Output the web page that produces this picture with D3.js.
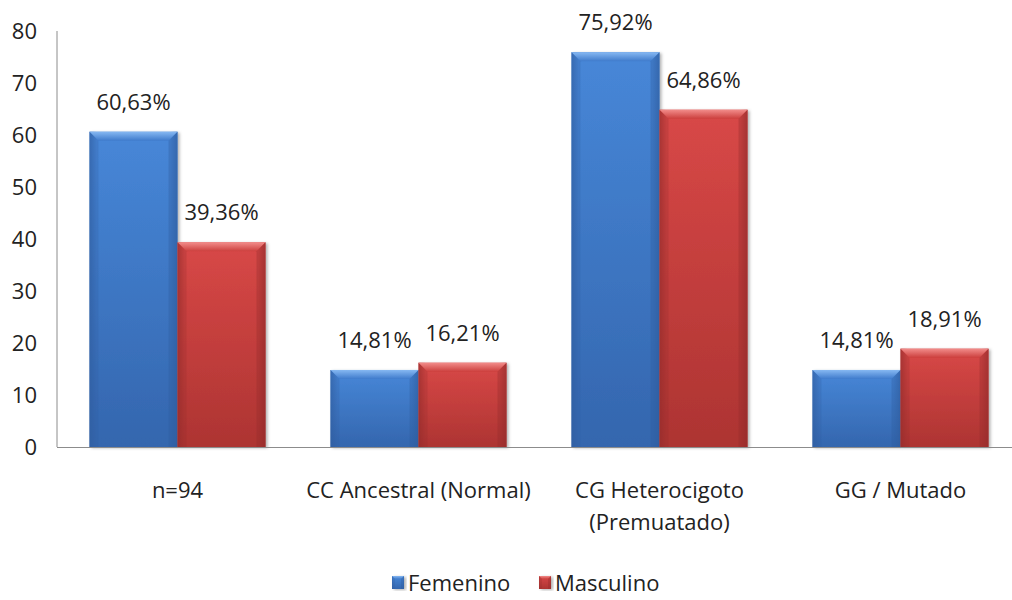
<!DOCTYPE html>
<html>
<head>
<meta charset="utf-8">
<script src="https://cdn.jsdelivr.net/npm/d3@7"></script>
<style>
  html, body { margin: 0; padding: 0; background: #fff; }
  svg { display: block; }
  text { font-family: "Open Sans", sans-serif; fill: #222; }
</style>
</head>
<body>
<svg id="chart" width="1012" height="600"></svg>
<script>
// Genotype groups (second line of a label goes in the inner array)
const categories = [["n=94"], ["CC Ancestral (Normal)"], ["CG Heterocigoto", "(Premuatado)"], ["GG / Mutado"]];
const seriesNames = ["Femenino", "Masculino"];
const femenino  = [60.63, 14.81, 75.92, 14.81];
const masculino = [39.36, 16.21, 64.86, 18.91];
const yTicks = [0, 10, 20, 30, 40, 50, 60, 70, 80];

const svg = d3.select("#chart");
const W = 1012, H = 600;
const margin = { left: 57, top: 31, bottom: 153 };
const plotRight = 1021;

const x = d3.scaleBand().domain(d3.range(categories.length)).range([margin.left, plotRight]).paddingInner(0).paddingOuter(0);
const inner = d3.scaleBand().domain([0, 1]).range([0, x.bandwidth()]).paddingInner(0).paddingOuter(0.369);
const y = d3.scaleLinear().domain([0, 80]).range([H - margin.bottom, margin.top]);

const palettes = [
  { top: "#4787d8", mid: "#3f7bcc", bot: "#3466ae", bevel: "#86b8f2", edge: "#2f5d9e" },
  { top: "#d84847", mid: "#cc3f3d", bot: "#ad3432", bevel: "#f28c8a", edge: "#922b2a" }
];

const defs = svg.append("defs");
palettes.forEach((p, i) => {
  const g = defs.append("linearGradient").attr("id", "body" + i).attr("x1", 0).attr("y1", 0).attr("x2", 0).attr("y2", 1);
  g.append("stop").attr("offset", "0%").attr("stop-color", p.top);
  g.append("stop").attr("offset", "100%").attr("stop-color", p.bot);
  const b = defs.append("linearGradient").attr("id", "bevel" + i).attr("x1", 0).attr("y1", 0).attr("x2", 0).attr("y2", 1);
  b.append("stop").attr("offset", "0%").attr("stop-color", p.bevel);
  b.append("stop").attr("offset", "100%").attr("stop-color", p.mid);
  const s = defs.append("linearGradient").attr("id", "side" + i).attr("x1", 0).attr("y1", 0).attr("x2", 1).attr("y2", 0);
  s.append("stop").attr("offset", "0%").attr("stop-color", p.edge).attr("stop-opacity", 0.55);
  s.append("stop").attr("offset", "8%").attr("stop-color", p.edge).attr("stop-opacity", 0);
  s.append("stop").attr("offset", "92%").attr("stop-color", p.edge).attr("stop-opacity", 0);
  s.append("stop").attr("offset", "100%").attr("stop-color", p.edge).attr("stop-opacity", 0.55);
});
const shadow = defs.append("filter").attr("id", "shadow").attr("x", "-10%").attr("y", "-10%").attr("width", "130%").attr("height", "120%");
shadow.append("feDropShadow").attr("dx", 2).attr("dy", 1).attr("stdDeviation", 1.5).attr("flood-color", "#000").attr("flood-opacity", 0.3);

// Bevelled bar drawn as body, side shading and a lighter top chamfer
function bevelBar(g, x0, y0, w, h, si, bev) {
  const grp = g.append("g");
  grp.append("rect").attr("x", x0).attr("y", y0).attr("width", w).attr("height", h)
    .attr("fill", `url(#body${si})`).attr("filter", "url(#shadow)");
  grp.append("rect").attr("x", x0).attr("y", y0).attr("width", w).attr("height", h).attr("fill", `url(#side${si})`);
  const b = Math.min(bev, h / 2);
  grp.append("path")
    .attr("d", `M${x0},${y0}H${x0 + w}L${x0 + w - b},${y0 + b}H${x0 + b}Z`)
    .attr("fill", `url(#bevel${si})`);
  grp.append("path")
    .attr("d", `M${x0},${y0}L${x0 + b},${y0 + b}V${y0 + h}H${x0}Z`)
    .attr("fill", palettes[si].edge).attr("opacity", 0.25);
  grp.append("path")
    .attr("d", `M${x0 + w},${y0}L${x0 + w - b},${y0 + b}V${y0 + h}H${x0 + w}Z`)
    .attr("fill", palettes[si].edge).attr("opacity", 0.35);
}

// Axes lines
const axisColor = "#8c8c8c";
svg.append("line").attr("x1", margin.left).attr("x2", margin.left).attr("y1", y(80)).attr("y2", y(0))
  .attr("stroke", axisColor).attr("stroke-width", 1);

// Y tick labels
const yAxis = d3.axisLeft(y).tickValues(yTicks).tickSize(0).tickPadding(20).tickFormat(d3.format("d"));
const yg = svg.append("g").attr("transform", `translate(${margin.left},0)`).call(yAxis);
yg.select(".domain").remove();
yg.selectAll("text").attr("font-size", 22).attr("font-family", "\"Open Sans\", sans-serif").attr("fill", "#222");

// Bars
const seriesData = [femenino, masculino];
const barsG = svg.append("g");
categories.forEach((c, i) => {
  seriesData.forEach((vals, si) => {
    const x0 = x(i) + inner(si);
    const y0 = y(vals[i]);
    bevelBar(barsG, x0, y0, inner.bandwidth(), y(0) - y0, si, 9);
  });
});

// X axis line drawn over bar bottoms
svg.append("line").attr("x1", margin.left).attr("x2", W).attr("y1", y(0) + 0.5).attr("y2", y(0) + 0.5)
  .attr("stroke", axisColor).attr("stroke-width", 1);

// Value labels
const fmt = v => v.toFixed(2).replace(".", ",") + "%";
categories.forEach((c, i) => {
  seriesData.forEach((vals, si) => {
    svg.append("text")
      .attr("x", x(i) + inner(si) + inner.bandwidth() / 2)
      .attr("y", y(vals[i]) - 22)
      .attr("text-anchor", "middle")
      .attr("font-size", 22)
      .text(fmt(vals[i]));
  });
});

// Category labels
categories.forEach((lines, i) => {
  const t = svg.append("text")
    .attr("x", x(i) + x.bandwidth() / 2)
    .attr("y", 498)
    .attr("text-anchor", "middle")
    .attr("font-size", 22);
  lines.forEach((ln, k) => {
    t.append("tspan").attr("x", x(i) + x.bandwidth() / 2).attr("dy", k === 0 ? 0 : 32).text(ln);
  });
});

// Legend
const legendItems = [{ name: seriesNames[0], si: 0, x: 392 }, { name: seriesNames[1], si: 1, x: 539 }];
legendItems.forEach(it => {
  bevelBar(svg, it.x, 576, 12, 13, it.si, 3);
  svg.append("text").attr("x", it.x + 16).attr("y", 591).attr("font-size", 22).text(it.name);
});
</script>
</body>
</html>
